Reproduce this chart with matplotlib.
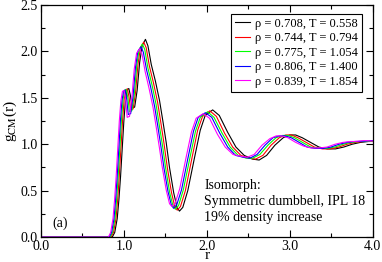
import matplotlib
matplotlib.use("Agg")
import matplotlib.pyplot as plt
from matplotlib.ticker import MultipleLocator

plt.rcParams['font.family'] = ['Liberation Serif', 'DejaVu Serif']
plt.rcParams['mathtext.fontset'] = 'stix'

# state points along the isomorph
labels = ["\u03c1 = 0.708, T = 0.558",
          "\u03c1 = 0.744, T = 0.794",
          "\u03c1 = 0.775, T = 1.054",
          "\u03c1 = 0.806, T = 1.400",
          "\u03c1 = 0.839, T = 1.854"]
colors = ["#000000", "#ff0000", "#00ff00", "#0000ff", "#ff00ff"]

# g_CM(r), one curve per state point
r_0708 = [0.00, 0.86, 0.89, 0.92, 0.94, 0.96, 0.98, 1.00, 1.02, 1.04, 1.06, 1.08, 1.10, 1.13,
          1.16, 1.19, 1.22, 1.26, 1.29, 1.33, 1.38, 1.43, 1.47, 1.51, 1.55, 1.60, 1.64, 1.67,
          1.71, 1.77, 1.85, 1.92, 1.98, 2.07, 2.15, 2.25, 2.35, 2.45, 2.55, 2.63, 2.72, 2.82,
          2.92, 3.00, 3.07, 3.15, 3.25, 3.35, 3.45, 3.55, 3.65, 3.75, 3.85, 3.95, 4.00]
g_0708 = [0, 0, 0.05, 0.20, 0.40, 0.65, 0.95, 1.25, 1.48, 1.59, 1.60, 1.52, 1.39, 1.40,
          1.58, 1.88, 2.06, 2.13, 2.06, 1.86, 1.68, 1.47, 1.25, 1.02, 0.75, 0.48, 0.32, 0.28,
          0.32, 0.50, 0.85, 1.15, 1.31, 1.37, 1.31, 1.13, 0.97, 0.88, 0.84, 0.83, 0.88, 0.99,
          1.07, 1.10, 1.10, 1.07, 1.02, 0.97, 0.95, 0.95, 0.97, 1.00, 1.02, 1.03, 1.03]

r_0744 = [0.00, 0.846, 0.875, 0.905, 0.925, 0.944, 0.964, 0.984, 1.003, 1.023, 1.043, 1.062,
          1.082, 1.111, 1.141, 1.170, 1.200, 1.239, 1.269, 1.308, 1.357, 1.407, 1.446, 1.485,
          1.525, 1.574, 1.613, 1.643, 1.682, 1.741, 1.820, 1.889, 1.948, 2.036, 2.115, 2.213,
          2.311, 2.410, 2.508, 2.587, 2.675, 2.774, 2.872, 2.951, 3.020, 3.098, 3.197, 3.295,
          3.393, 3.492, 3.590, 3.689, 3.787, 3.885, 3.934, 4.00]
g_0744 = [0, 0, 0.05, 0.20, 0.40, 0.65, 0.95, 1.25, 1.48, 1.59, 1.595, 1.51, 1.37, 1.38,
          1.56, 1.86, 2.04, 2.10, 2.04, 1.84, 1.66, 1.45, 1.23, 1.00, 0.74, 0.48, 0.33, 0.29,
          0.33, 0.50, 0.85, 1.15, 1.30, 1.36, 1.30, 1.12, 0.97, 0.88, 0.85, 0.84, 0.88, 0.99,
          1.07, 1.10, 1.10, 1.07, 1.02, 0.97, 0.95, 0.95, 0.97, 1.00, 1.02, 1.03, 1.03, 1.03]

r_0775 = [0.00, 0.834, 0.864, 0.893, 0.912, 0.931, 0.951, 0.970, 0.990, 1.009, 1.029, 1.048,
          1.067, 1.096, 1.126, 1.155, 1.184, 1.223, 1.252, 1.290, 1.339, 1.388, 1.426, 1.465,
          1.504, 1.552, 1.591, 1.620, 1.659, 1.717, 1.795, 1.863, 1.921, 2.009, 2.086, 2.183,
          2.280, 2.377, 2.474, 2.552, 2.639, 2.736, 2.833, 2.911, 2.979, 3.056, 3.153, 3.251,
          3.348, 3.445, 3.542, 3.639, 3.736, 3.833, 3.881, 4.00]
g_0775 = [0, 0, 0.05, 0.20, 0.40, 0.65, 0.95, 1.25, 1.48, 1.58, 1.59, 1.50, 1.35, 1.36,
          1.54, 1.85, 2.02, 2.08, 2.02, 1.82, 1.64, 1.43, 1.21, 0.99, 0.74, 0.48, 0.34, 0.30,
          0.34, 0.51, 0.85, 1.14, 1.29, 1.35, 1.29, 1.12, 0.97, 0.88, 0.85, 0.85, 0.89, 0.99,
          1.07, 1.095, 1.095, 1.07, 1.02, 0.97, 0.955, 0.955, 0.97, 1.00, 1.02, 1.03, 1.03, 1.035]

r_0806 = [0.00, 0.824, 0.852, 0.881, 0.900, 0.919, 0.939, 0.958, 0.977, 0.996, 1.015, 1.034,
          1.053, 1.082, 1.111, 1.140, 1.168, 1.207, 1.235, 1.274, 1.322, 1.370, 1.408, 1.446,
          1.484, 1.532, 1.571, 1.599, 1.638, 1.695, 1.772, 1.839, 1.896, 1.982, 2.059, 2.155,
          2.251, 2.346, 2.442, 2.519, 2.605, 2.701, 2.796, 2.873, 2.940, 3.017, 3.113, 3.208,
          3.304, 3.400, 3.496, 3.591, 3.687, 3.783, 3.831, 4.00]
g_0806 = [0, 0, 0.05, 0.20, 0.40, 0.65, 0.95, 1.25, 1.47, 1.575, 1.585, 1.49, 1.32, 1.33,
          1.52, 1.83, 2.00, 2.05, 1.99, 1.80, 1.62, 1.41, 1.20, 0.98, 0.74, 0.49, 0.35, 0.31,
          0.35, 0.51, 0.85, 1.14, 1.29, 1.34, 1.29, 1.12, 0.97, 0.88, 0.86, 0.85, 0.89, 0.99,
          1.07, 1.09, 1.09, 1.07, 1.02, 0.97, 0.955, 0.955, 0.97, 1.00, 1.02, 1.03, 1.03, 1.04]

r_0839 = [0.00, 0.813, 0.841, 0.869, 0.888, 0.907, 0.926, 0.945, 0.964, 0.983, 1.002, 1.021,
          1.040, 1.068, 1.096, 1.125, 1.153, 1.191, 1.219, 1.257, 1.304, 1.351, 1.389, 1.427,
          1.465, 1.512, 1.550, 1.578, 1.616, 1.673, 1.748, 1.814, 1.871, 1.956, 2.032, 2.126,
          2.221, 2.315, 2.410, 2.485, 2.570, 2.665, 2.759, 2.835, 2.901, 2.977, 3.071, 3.166,
          3.260, 3.355, 3.449, 3.544, 3.638, 3.733, 3.780, 3.90, 4.00]
g_0839 = [0, 0, 0.05, 0.20, 0.40, 0.65, 0.95, 1.25, 1.47, 1.57, 1.58, 1.48, 1.29, 1.30,
          1.50, 1.81, 1.98, 2.03, 1.97, 1.78, 1.60, 1.40, 1.19, 0.97, 0.74, 0.50, 0.36, 0.33,
          0.36, 0.52, 0.85, 1.13, 1.28, 1.33, 1.28, 1.11, 0.97, 0.89, 0.87, 0.86, 0.89, 0.99,
          1.06, 1.09, 1.09, 1.07, 1.02, 0.98, 0.96, 0.96, 0.97, 1.00, 1.02, 1.03, 1.03, 1.04, 1.035]

curves = [(r_0708, g_0708), (r_0744, g_0744), (r_0775, g_0775),
          (r_0806, g_0806), (r_0839, g_0839)]

fig = plt.figure(figsize=(3.82, 2.62), dpi=100)
ax = fig.add_axes([0.107, 0.095, 0.869, 0.886])

for (r, g), c, lab in zip(curves, colors, labels):
    ax.plot(r, g, color=c, lw=0.8, label=lab)

ax.set_xlim(0, 4)
ax.set_ylim(0, 2.5)
ax.xaxis.set_major_locator(MultipleLocator(1.0))
ax.xaxis.set_minor_locator(MultipleLocator(0.5))
ax.yaxis.set_major_locator(MultipleLocator(0.5))
ax.yaxis.set_minor_locator(MultipleLocator(0.25))
ax.xaxis.set_major_formatter(plt.FormatStrFormatter('%.1f'))
ax.yaxis.set_major_formatter(plt.FormatStrFormatter('%.1f'))
ax.tick_params(which='both', direction='in', top=True, right=True, labelsize=10, width=0.8)
ax.tick_params(which='major', length=5, pad=2)
ax.tick_params(which='minor', length=3)
for s in ax.spines.values():
    s.set_linewidth(0.9)

ax.set_xlabel("r", fontsize=11, labelpad=-3)
ax.set_ylabel(r"g$_{\rm CM}$(r)", fontsize=11, labelpad=1)

leg = ax.legend(loc='upper right', bbox_to_anchor=(0.967, 0.961), fontsize=9,
                handlelength=1.2, handletextpad=0.45, labelspacing=0.2,
                borderpad=0.3, borderaxespad=0, fancybox=False, framealpha=1)
leg.get_frame().set_edgecolor('black')
leg.get_frame().set_linewidth(0.8)

ax.text(1.97, 0.38, "Isomorph:\nSymmetric dumbbell, IPL 18\n19% density increase",
        fontsize=10, va='center', ha='left', linespacing=1.3)
ax.text(0.14, 0.15, "(a)", fontsize=10, va='center', ha='left')

fig.savefig("out.png", dpi=100)
